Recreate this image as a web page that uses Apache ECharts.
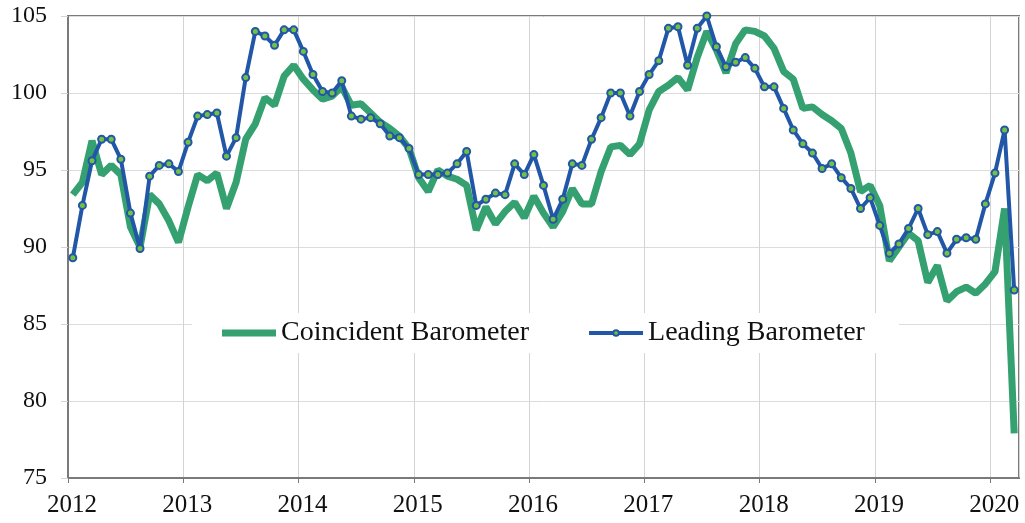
<!DOCTYPE html>
<html>
<head>
<meta charset="utf-8">
<script src="https://cdn.jsdelivr.net/npm/echarts@6/dist/echarts.min.js"></script>
<style>
  html, body { margin: 0; padding: 0; background: #fff; }
  #chart { width: 1025px; height: 523px; }
</style>
</head>
<body>
<div id="chart"></div>
<script>
// monthly readings, Jan 2012 .. Mar 2020
var startYear = 2012;
var yearTicks = ['2012', '2013', '2014', '2015', '2016', '2017', '2018', '2019', '2020'];

var coincident = [
  93.4, 94.2, 96.9, 94.7, 95.3, 94.7, 91.3, 90.0, 93.4, 92.8, 91.7, 90.3,
  92.6, 94.7, 94.3, 94.8, 92.5, 94.2, 97.0, 98.0, 99.7, 99.2, 101.1, 101.8,
  100.9, 100.2, 99.6, 99.8, 100.4, 99.2, 99.3, 98.7, 98.1, 97.7, 97.2, 96.4,
  94.5, 93.6, 95.0, 94.6, 94.4, 94.0, 91.1, 92.6, 91.5, 92.3, 92.9, 91.9,
  93.3, 92.2, 91.3, 92.3, 93.8, 92.8, 92.8, 94.9, 96.5, 96.6, 96.0, 96.7,
  98.9, 100.1, 100.5, 101.0, 100.2, 102.3, 104.0, 102.8, 101.3, 103.2, 104.1, 104.0,
  103.7, 102.9, 101.4, 100.9, 99.0, 99.1, 98.6, 98.2, 97.7, 96.1, 93.6, 94.0,
  92.7, 89.1, 90.0, 90.9, 90.4, 87.7, 88.8, 86.5, 87.1, 87.4, 87.0, 87.6,
  88.4, 92.5, 77.9
];

var leading = [
  89.3, 92.7, 95.6, 97.0, 97.0, 95.7, 92.2, 89.9, 94.6, 95.3, 95.4, 94.9,
  96.8, 98.5, 98.6, 98.7, 95.9, 97.1, 101.0, 104.0, 103.7, 103.1, 104.1, 104.1,
  102.7, 101.2, 100.1, 100.0, 100.8, 98.5, 98.3, 98.4, 98.0, 97.2, 97.1, 96.4,
  94.7, 94.7, 94.7, 94.8, 95.4, 96.2, 92.7, 93.1, 93.5, 93.4, 95.4, 94.7,
  96.0, 94.0, 91.8, 93.1, 95.4, 95.3, 97.0, 98.4, 100.0, 100.0, 98.5, 100.1,
  101.2, 102.1, 104.2, 104.3, 101.8, 104.2, 105.0, 103.0, 101.7, 102.0, 102.3, 101.6,
  100.4, 100.4, 99.0, 97.6, 96.7, 96.1, 95.1, 95.4, 94.5, 93.8, 92.5, 93.2,
  91.4, 89.6, 90.2, 91.2, 92.5, 90.8, 91.0, 89.6, 90.5, 90.6, 90.5, 92.8,
  94.8, 97.6, 87.2
];

// place each month in the middle of its slot on a month-count axis
function toPoints(arr) {
  return arr.map(function (v, i) { return [i + 0.5, v]; });
}

var font = 'Liberation Serif';
var green = '#35a070';
var blue = '#2157a6';
var chart = echarts.init(document.getElementById('chart'));

chart.setOption({
  backgroundColor: '#ffffff',
  animation: false,
  grid: {
    left: 68,
    right: 6,
    top: 16,
    bottom: 45,
    show: true,
    borderColor: '#7a7a7a',
    borderWidth: 2
  },
  legend: {
    left: 192,
    top: 313,
    padding: [6, 34, 6, 30],
    backgroundColor: '#ffffff',
    itemWidth: 54,
    itemHeight: 7,
    itemGap: 58,
    lineStyle: { width: 'inherit' },
    textStyle: { fontFamily: font, fontSize: 28, color: '#111' },
    data: [
      { name: 'Coincident Barometer', icon: 'rect', itemStyle: { color: green } },
      { name: 'Leading Barometer' }
    ]
  },
  xAxis: {
    type: 'value',
    min: 0,
    max: 99,
    interval: 12,
    axisLine: { show: true, lineStyle: { color: '#7a7a7a', width: 2 } },
    axisTick: { show: true, length: 5, lineStyle: { color: '#7a7a7a' } },
    axisLabel: {
      fontFamily: font,
      fontSize: 25,
      color: '#111',
      margin: 15,
      padding: [0, 0, 0, 8],
      showMaxLabel: false,
      formatter: function (v) {
        return v % 12 === 0 ? yearTicks[v / 12] : '';
      }
    },
    splitLine: { show: true, lineStyle: { color: '#d4d4d4', width: 1 } }
  },
  yAxis: {
    type: 'value',
    min: 75,
    max: 105,
    interval: 5,
    axisLine: { show: true, lineStyle: { color: '#7a7a7a', width: 2 } },
    axisTick: { show: true, length: 7, lineStyle: { color: '#d4d4d4' } },
    axisLabel: { fontFamily: font, fontSize: 24, color: '#111', margin: 21 },
    splitLine: { show: true, lineStyle: { color: '#dcdcdc', width: 1 } }
  },
  series: [
    {
      name: 'Coincident Barometer',
      type: 'line',
      symbol: 'none',
      z: 2,
      lineStyle: { color: green, width: 7 },
      itemStyle: { color: green },
      data: toPoints(coincident)
    },
    {
      name: 'Leading Barometer',
      type: 'line',
      symbol: 'circle',
      symbolSize: 7,
      z: 3,
      lineStyle: { color: blue, width: 4 },
      itemStyle: { color: '#74c043', borderColor: blue, borderWidth: 2 },
      data: toPoints(leading)
    }
  ]
});
</script>
</body>
</html>
